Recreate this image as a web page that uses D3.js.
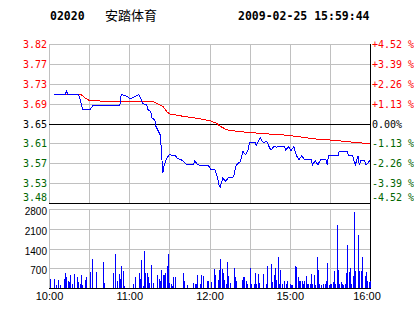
<!DOCTYPE html>
<html>
<head>
<meta charset="utf-8">
<script src="https://cdn.jsdelivr.net/npm/d3@7"></script>
<style>
body { margin: 0; background: #fff; }
svg { display: block; }
</style>
</head>
<body>
<svg id="chart"></svg>
<script>
'use strict';

const WIDTH = 414;
const HEIGHT = 314;
const LEFT = 49;
const RIGHT = 370;
const PRICE_TOP = 44;
const PRICE_BOTTOM = 203;
const VOL_TOP = 209;
const VOL_BOTTOM = 288;
const GRID = "#c0c0c0";
const UP = "#ff0000";
const DOWN = "#006600";
const MONO = "'DejaVu Sans Mono', monospace";
const SANS = "'Liberation Sans', Arial, sans-serif";

const stockCode = "02020";
const stockName = "安踏体育";
const stamp = "2009-02-25 15:59:44";
const prevClose = 3.65;
const maxPct = 4.52;

const pctTicks = [4.52, 3.39, 2.26, 1.13, 0, -1.13, -2.26, -3.39, -4.52];
const priceLabels = ["3.82", "3.77", "3.73", "3.69", "3.65", "3.61", "3.57", "3.53", "3.48"];
const pctLabels = ["+4.52 %", "+3.39 %", "+2.26 %", "+1.13 %", " 0.00%", "-1.13 %", "-2.26 %", "-3.39 %", "-4.52 %"];
const volTicks = [700, 1400, 2100, 2800];
const gridMinutes = [0, 30, 60, 90, 120, 150, 180, 210, 240];
const timeTicks = [0, 60, 120, 180, 240];
const timeLabels = ["10:00", "11:00", "12:00", "15:00", "16:00"];

// [trading minute, price]
const priceSeries = [
    [4, 3.710], [12, 3.710], [13, 3.718], [14, 3.710], [22, 3.710], [23, 3.703], [24, 3.692],
    [25, 3.680], [31, 3.680], [33, 3.688], [53, 3.688], [54, 3.710], [57, 3.708], [59, 3.705],
    [61, 3.701], [63, 3.704], [67, 3.710], [69, 3.700], [70, 3.691], [73, 3.689], [74, 3.679],
    [76, 3.675], [77, 3.661], [79, 3.658], [80, 3.644], [83, 3.627], [84, 3.599], [85, 3.547],
    [86, 3.561], [88, 3.578], [90, 3.585], [94, 3.584], [96, 3.578], [100, 3.573], [103, 3.564],
    [108, 3.564], [109, 3.573], [111, 3.564], [119, 3.563], [121, 3.555], [124, 3.554],
    [126, 3.538], [127, 3.523], [128, 3.518], [130, 3.537], [132, 3.530], [134, 3.537],
    [136, 3.537], [138, 3.540], [140, 3.564], [143, 3.571], [145, 3.592], [147, 3.585],
    [149, 3.597], [150, 3.611], [154, 3.611], [155, 3.605], [158, 3.620], [160, 3.611],
    [163, 3.612], [165, 3.599], [166, 3.595], [168, 3.602], [170, 3.601], [172, 3.603],
    [176, 3.602], [177, 3.594], [179, 3.602], [181, 3.594], [183, 3.602], [185, 3.583],
    [187, 3.575], [189, 3.583], [191, 3.575], [196, 3.575], [197, 3.564], [199, 3.573],
    [201, 3.564], [203, 3.575], [207, 3.575], [208, 3.564], [209, 3.583], [216, 3.583],
    [217, 3.592], [223, 3.592], [224, 3.583], [227, 3.583], [228, 3.573], [229, 3.564],
    [231, 3.583], [232, 3.564], [233, 3.573], [236, 3.573], [237, 3.564], [240, 3.573]
];

const avgSeries = [
    [4, 3.710], [24, 3.710], [27, 3.703], [30, 3.698], [32, 3.697], [50, 3.696], [78, 3.695],
    [82, 3.690], [85, 3.686], [88, 3.675], [90, 3.670], [98, 3.666], [110, 3.661], [120, 3.656],
    [125, 3.651], [128, 3.644], [133, 3.637], [140, 3.634], [147, 3.632], [160, 3.629],
    [172, 3.627], [180, 3.625], [199, 3.618], [214, 3.615], [220, 3.613], [240, 3.608]
];

const volumeSeries = [
    [1, 331], [4, 331], [5, 118], [7, 295], [8, 118], [11, 331], [12, 543], [13, 378], [14, 260],
    [15, 213], [16, 449], [17, 154], [19, 508], [21, 378], [22, 213], [23, 154], [24, 449],
    [25, 118], [27, 295], [28, 378], [31, 555], [32, 1016], [35, 579], [40, 933], [41, 189],
    [48, 543], [49, 1216], [51, 260], [52, 508], [53, 331], [54, 791], [55, 614], [56, 83],
    [63, 154], [64, 401], [67, 543], [68, 331], [69, 1004], [70, 83], [71, 1323], [72, 543],
    [73, 543], [74, 378], [75, 189], [76, 827], [78, 189], [81, 449], [82, 331], [83, 260],
    [84, 650], [85, 461], [86, 449], [87, 543], [88, 791], [89, 1216], [90, 189], [91, 154],
    [92, 83], [93, 401], [94, 378], [100, 543], [101, 260], [103, 118], [108, 189], [109, 154],
    [110, 154], [111, 449], [113, 154], [114, 449], [115, 425], [118, 260], [119, 260],
    [121, 213], [123, 685], [124, 449], [126, 295], [127, 626], [128, 1039], [129, 685],
    [130, 531], [131, 295], [132, 154], [133, 933], [134, 413], [135, 177], [138, 720],
    [139, 378], [140, 236], [144, 295], [145, 378], [146, 378], [147, 236], [148, 154],
    [150, 720], [151, 154], [153, 154], [154, 543], [155, 154], [156, 508], [157, 189],
    [160, 508], [162, 154], [163, 791], [166, 862], [167, 213], [168, 472], [169, 720],
    [170, 295], [171, 1098], [172, 154], [173, 650], [174, 154], [176, 236], [177, 154],
    [178, 236], [180, 154], [181, 118], [182, 118], [184, 791], [185, 756], [186, 378],
    [187, 260], [188, 236], [189, 260], [190, 154], [191, 260], [192, 437], [193, 154],
    [194, 154], [195, 154], [196, 496], [197, 154], [198, 472], [199, 118], [200, 1098],
    [201, 626], [202, 154], [203, 118], [205, 154], [206, 154], [207, 236], [208, 898],
    [209, 118], [210, 154], [211, 154], [212, 201], [213, 614], [214, 154], [215, 2220],
    [216, 650], [217, 154], [218, 213], [219, 154], [220, 118], [221, 154], [222, 531],
    [223, 1535], [224, 567], [225, 709], [226, 154], [227, 413], [228, 2681], [229, 591],
    [231, 1890], [232, 591], [233, 614], [234, 1110], [236, 413], [237, 555], [238, 236],
    [239, 201], [240, 260]
];

class MinuteChart {
    constructor() {
        this.svg = d3.select("svg#chart")
                     .attr("width", WIDTH)
                     .attr("height", HEIGHT);
        this.svg.append("rect")
                .attr("width", WIDTH)
                .attr("height", HEIGHT)
                .attr("fill", "#fff");
        this.setScales();
    }

    setScales() {
        this.x = d3.scaleLinear().domain([0, 240]).range([LEFT, RIGHT]);
        this.yPct = d3.scaleLinear().domain([-maxPct, maxPct]).range([PRICE_BOTTOM, PRICE_TOP]);
        this.yPrice = d3.scaleLinear()
                        .domain([prevClose * (1 - maxPct / 100), prevClose * (1 + maxPct / 100)])
                        .range([PRICE_BOTTOM, PRICE_TOP]);
        this.yVol = d3.scaleLinear().domain([0, 2800]).range([VOL_BOTTOM, VOL_TOP]);
    }

    hline(y, color, x1 = LEFT, x2 = RIGHT) {
        this.svg.append("line")
                .attr("x1", x1).attr("x2", x2 + 1)
                .attr("y1", Math.round(y) + 0.5).attr("y2", Math.round(y) + 0.5)
                .attr("stroke", color)
                .attr("shape-rendering", "crispEdges");
    }

    vline(x, y1, y2, color) {
        this.svg.append("line")
                .attr("x1", Math.round(x) + 0.5).attr("x2", Math.round(x) + 0.5)
                .attr("y1", y1).attr("y2", y2 + 1)
                .attr("stroke", color)
                .attr("shape-rendering", "crispEdges");
    }

    drawTitle() {
        const g = this.svg.append("g").attr("font-size", 11.5).attr("font-weight", "bold")
                          .attr("font-family", MONO);
        g.append("text").attr("x", 50).attr("y", 20).text(stockCode);
        g.append("text").attr("x", 238).attr("y", 20).text(stamp);
        this.svg.append("text")
                .attr("x", 105).attr("y", 19.5)
                .attr("font-family", "'Noto Sans CJK SC', sans-serif")
                .attr("font-size", 13)
                .text(stockName);
    }

    drawGrid() {
        pctTicks.forEach(t => {
            if (t !== 0 && t !== -maxPct) this.hline(this.yPct(t), GRID);
        });
        volTicks.forEach(t => this.hline(this.yVol(t), GRID));
        gridMinutes.slice(0, -1).forEach(m => {
            this.vline(this.x(m), PRICE_TOP, PRICE_BOTTOM, GRID);
            this.vline(this.x(m), VOL_TOP, VOL_BOTTOM, GRID);
        });
        this.hline(this.yPct(0), "#000");
        this.hline(PRICE_BOTTOM, "#000");
        this.hline(VOL_BOTTOM, "#000");
        this.vline(RIGHT, PRICE_TOP, VOL_BOTTOM, "#000");
    }

    drawLabels() {
        const color = t => t > 0 ? UP : (t < 0 ? DOWN : "#000");
        const dy = (t, i) => i === pctTicks.length - 1 ? -2 : 4;

        this.svg.append("g")
                .attr("font-family", MONO).attr("font-size", 10)
                .attr("text-anchor", "end")
                .selectAll("text")
                .data(pctTicks)
                .enter()
                .append("text")
                .attr("x", 47)
                .attr("y", (t, i) => Math.round(this.yPct(t)) + dy(t, i))
                .attr("fill", color)
                .text((t, i) => priceLabels[i]);

        this.svg.append("g")
                .attr("font-family", MONO).attr("font-size", 10)
                .style("white-space", "pre")
                .selectAll("text")
                .data(pctTicks)
                .enter()
                .append("text")
                .attr("x", 372)
                .attr("y", (t, i) => Math.round(this.yPct(t)) + dy(t, i))
                .attr("fill", color)
                .text((t, i) => pctLabels[i]);

        this.svg.append("g")
                .attr("font-family", SANS).attr("font-size", 10)
                .attr("text-anchor", "end")
                .selectAll("text")
                .data(volTicks)
                .enter()
                .append("text")
                .attr("x", 47)
                .attr("y", t => Math.round(this.yVol(t)) + 6)
                .text(t => String(t));

        this.svg.append("g")
                .attr("font-family", SANS).attr("font-size", 11)
                .attr("text-anchor", "middle")
                .selectAll("text")
                .data(timeTicks)
                .enter()
                .append("text")
                .attr("x", (m, i) => this.x(m) + (i === timeTicks.length - 1 ? -3 : 0.5))
                .attr("y", 300)
                .text((m, i) => timeLabels[i]);
    }

    drawSeries() {
        const line = d3.line().x(d => this.x(d[0])).y(d => this.yPrice(d[1]));

        this.svg.append("path")
                .datum(avgSeries)
                .attr("fill", "none")
                .attr("stroke", UP)
                .attr("stroke-width", 1)
                .attr("shape-rendering", "crispEdges")
                .attr("d", line);

        this.svg.append("path")
                .datum(priceSeries)
                .attr("fill", "none")
                .attr("stroke", "#0000ff")
                .attr("stroke-width", 1)
                .attr("shape-rendering", "crispEdges")
                .attr("d", line);

        this.svg.append("g")
                .attr("fill", "#0000ff")
                .attr("shape-rendering", "crispEdges")
                .selectAll("rect")
                .data(volumeSeries)
                .enter()
                .append("rect")
                .attr("x", d => Math.round(this.x(d[0])))
                .attr("y", d => this.yVol(d[1]))
                .attr("width", 1)
                .attr("height", d => VOL_BOTTOM - this.yVol(d[1]));
    }

    draw() {
        this.drawTitle();
        this.drawGrid();
        this.drawSeries();
        this.drawLabels();
    }
}

new MinuteChart().draw();
</script>
</body>
</html>
